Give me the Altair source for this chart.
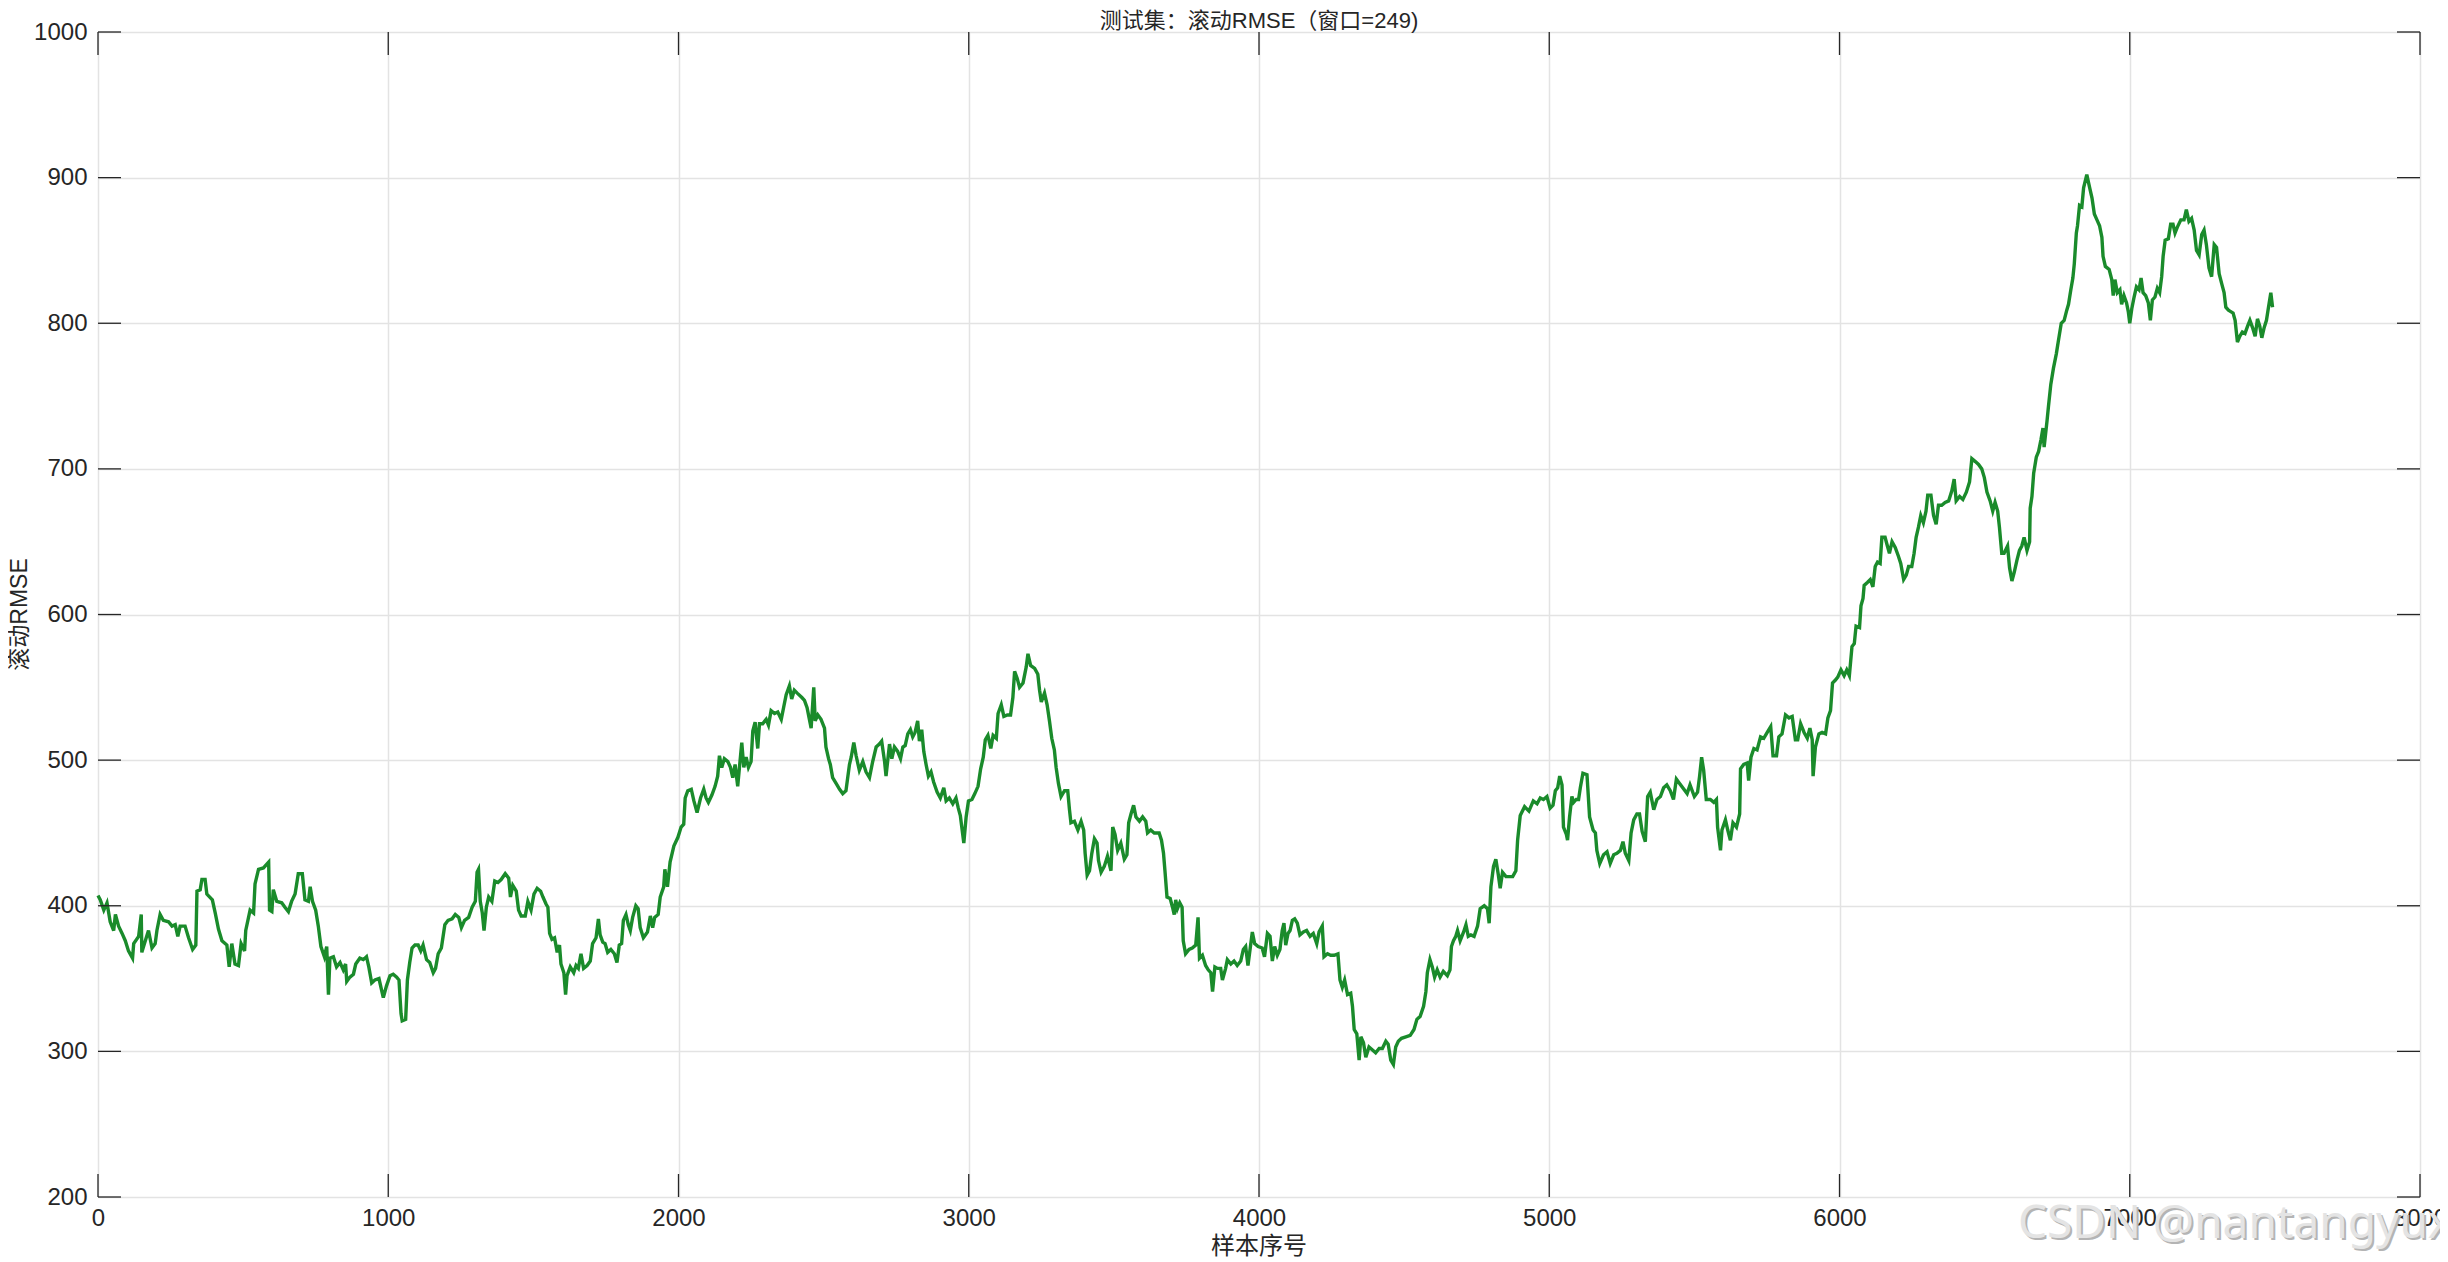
import altair as alt
import pandas as pd

# ---- data (sample index, rolling RMSE) ----
sample_idx = [
    0, 8, 20, 31, 42, 54, 60, 71, 83, 94, 105, 119, 123, 140, 149, 151, 163, 174, 186, 197,
    203, 214, 225, 243, 255, 266, 275, 283, 300, 312, 326, 337, 341, 352, 358, 369, 375, 394, 404, 415,
    427, 444, 452, 461, 472, 484, 493, 505, 509, 524, 536, 541, 553, 570, 588, 591, 599, 604, 616, 633,
    644, 656, 667, 679, 690, 704, 713, 725, 731, 739, 750, 759, 768, 780, 788, 794, 799, 811, 822, 834,
    845, 853, 857, 868, 880, 888, 902, 914, 925, 933, 943, 954, 968,
    977, 983, 994, 1006, 1017, 1029, 1037, 1044, 1048, 1060, 1066, 1074, 1082, 1092, 1103, 1112, 1120, 1132, 1143, 1155,
    1163, 1172, 1183, 1195, 1206, 1220, 1231, 1243, 1252, 1263, 1277, 1289, 1300, 1306, 1311, 1317, 1324, 1330, 1338, 1346,
    1357, 1367, 1378, 1389, 1403, 1415, 1421, 1429, 1441, 1449, 1458, 1472, 1481, 1492, 1502, 1513, 1525, 1533, 1544, 1550,
    1556, 1564, 1573, 1582, 1590, 1595, 1605, 1611, 1616, 1627, 1639, 1647, 1655, 1664, 1673, 1685, 1696, 1704, 1716, 1724,
    1730, 1739, 1747, 1756, 1767, 1779, 1788, 1796, 1804, 1810, 1819, 1827, 1834, 1842, 1853, 1861, 1868, 1879, 1893, 1903,
    1911, 1918, 1930, 1937, 1949, 1953, 1962, 1971,
    1984, 1998, 2009, 2018, 2023, 2032, 2044, 2053, 2064, 2076, 2087, 2095, 2103, 2115, 2126, 2135, 2141, 2149, 2158, 2170,
    2179, 2187, 2195, 2204, 2210, 2218, 2225, 2233, 2241, 2250, 2256, 2264, 2273, 2279, 2290, 2302, 2310, 2319, 2331, 2342,
    2354, 2363, 2371, 2382, 2390, 2399, 2409, 2425, 2434, 2443, 2451, 2457, 2466, 2471, 2480, 2491, 2503, 2508, 2517, 2523,
    2531, 2543, 2555, 2566, 2577, 2589, 2595, 2604, 2612, 2623, 2635, 2646, 2658, 2669, 2681, 2692, 2700, 2710, 2715, 2727,
    2735, 2744, 2755, 2765, 2773, 2781, 2790, 2799, 2807, 2815, 2824, 2830, 2838, 2845, 2853, 2861, 2870, 2879, 2891, 2902,
    2914, 2922, 2933, 2945, 2956, 2964, 2971, 2976, 2983, 2991, 2999,
    3011, 3021, 3032, 3041, 3050, 3057, 3066, 3076, 3084, 3095, 3101, 3112, 3121, 3133, 3144, 3152, 3158, 3167, 3175, 3187,
    3198, 3204, 3213, 3227, 3238, 3244, 3250, 3261, 3270, 3278, 3286, 3295, 3301, 3309, 3318, 3330, 3341, 3347, 3352, 3364,
    3376, 3387, 3396, 3401, 3408, 3416, 3424, 3433, 3442, 3447, 3456, 3467, 3478, 3490, 3496, 3504, 3513, 3524, 3536, 3545,
    3551, 3559, 3568, 3576, 3588, 3599, 3610, 3616, 3627, 3639, 3656, 3664, 3671, 3676, 3683, 3694, 3702, 3708, 3713, 3719,
    3727, 3735, 3739, 3747, 3759, 3770, 3782, 3790, 3795, 3805, 3816, 3825, 3834, 3840, 3848, 3857, 3868, 3874, 3885, 3891,
    3903, 3914, 3925, 3937, 3946, 3954, 3962,
    3977, 3985, 3997, 4011, 4019, 4029, 4038, 4046, 4054, 4063, 4072, 4080, 4086, 4092, 4100, 4107, 4115, 4123, 4132, 4141,
    4153, 4164, 4176, 4187, 4199, 4207, 4218, 4224, 4236, 4247, 4259, 4272, 4279, 4287, 4295, 4305, 4316, 4322, 4328, 4337,
    4345, 4351, 4360, 4368, 4379, 4391, 4402, 4414, 4425, 4437, 4445, 4454, 4463, 4471, 4480, 4491, 4506, 4521, 4534, 4544,
    4555, 4567, 4575, 4580, 4589, 4597, 4605, 4614, 4624, 4635, 4649, 4658, 4663, 4670, 4678, 4684, 4693, 4705, 4713, 4721,
    4730, 4741, 4753, 4762, 4776, 4787, 4793, 4799, 4808, 4816, 4824, 4831, 4839, 4851, 4862, 4874, 4885, 4891,
    4900, 4915, 4930, 4945, 4958,
    4969, 4980, 4992, 5003, 5013, 5021, 5029, 5036, 5044, 5049, 5059, 5063, 5070, 5078, 5084, 5093, 5101, 5107, 5116, 5130,
    5139, 5151, 5159, 5164, 5174, 5187, 5199, 5210, 5222, 5233, 5245, 5254, 5262, 5274, 5282, 5291, 5302, 5311, 5320, 5331,
    5339, 5348, 5360, 5371, 5383, 5394, 5405, 5417, 5428, 5438, 5449, 5460, 5475, 5485, 5500, 5511, 5518, 5525, 5532, 5541,
    5555, 5567, 5576, 5580, 5590, 5595, 5607, 5615, 5624, 5633, 5645, 5656, 5659, 5670, 5682, 5687, 5695, 5705, 5716, 5728,
    5739, 5751, 5763, 5771, 5783, 5791, 5802, 5814, 5826, 5837, 5848, 5856, 5866, 5878, 5889, 5898, 5906, 5909, 5917, 5929,
    5940, 5952, 5960, 5969, 5976, 5986, 5994,
    6005, 6016, 6025, 6034, 6043, 6051, 6057, 6069, 6074, 6081, 6085, 6096, 6106, 6115, 6123, 6131, 6140, 6146, 6157, 6165,
    6172, 6181, 6192, 6203, 6211, 6221, 6230, 6238, 6249, 6257, 6264, 6272, 6280, 6289, 6298, 6304, 6315, 6324, 6333, 6341,
    6352, 6364, 6376, 6387, 6395, 6402, 6414, 6425, 6437, 6448, 6456, 6468, 6479, 6490, 6499, 6508, 6519, 6528, 6536, 6545,
    6551, 6559, 6567, 6579, 6586, 6594, 6602, 6611, 6620, 6628, 6636, 6646, 6655, 6657, 6663, 6669, 6678, 6686, 6694, 6701,
    6705, 6715, 6720, 6728, 6737, 6747, 6755, 6764, 6774, 6783, 6789, 6797, 6804, 6809, 6816, 6820, 6827, 6835, 6841, 6852,
    6862, 6870, 6878, 6887, 6896, 6904, 6908, 6916,
    6929, 6938, 6943, 6949, 6957, 6966, 6972, 6980, 6989, 6995, 7000, 7007, 7015, 7023, 7032, 7039, 7046, 7055, 7064, 7071,
    7078, 7087, 7095, 7103, 7110, 7115, 7122, 7133, 7141, 7149, 7156, 7164, 7176, 7187, 7195, 7204, 7213, 7222, 7230, 7239,
    7248, 7256, 7264, 7273, 7282, 7291, 7299, 7308, 7317, 7325, 7331, 7340, 7348, 7356, 7363, 7371, 7379, 7388, 7397, 7406,
    7414, 7423, 7432, 7440, 7448, 7455, 7463, 7471, 7478, 7486, 7492,
]

rolling_rmse = [
    407, 404, 397, 402, 389, 383, 394, 386, 381, 376, 369, 364, 374, 379, 394, 368, 376, 383, 371, 374,
    383, 394, 390, 389, 386, 387, 379, 386, 386, 378, 370, 373, 410, 411, 418, 418, 408, 404, 395, 384,
    376, 373, 358, 374, 360, 359, 374, 369, 383, 397, 395, 415, 425, 426, 430, 397, 396, 411, 403, 402,
    399, 396, 403, 408, 422, 422, 404, 403, 413, 403, 397, 386, 372, 365, 372, 339, 364, 365, 358, 361,
    356, 360, 348, 351, 353, 360, 364, 363, 365, 358, 347, 349, 350,
    342, 337, 345, 352, 353, 351, 349, 326, 321, 322, 349, 361, 371, 373, 373, 369, 373, 363, 361, 354,
    357, 367, 371, 387, 390, 391, 394, 392, 385, 390, 392, 399, 403, 423, 425, 403, 395, 383, 399, 406,
    403, 417, 416, 418, 422, 419, 406, 414, 410, 397, 393, 393, 403, 397, 408, 412, 410, 406, 401, 399,
    381, 377, 378, 368, 373, 360, 354, 339, 352, 358, 354, 359, 357, 367, 357, 359, 362, 374, 378, 391,
    380, 375, 374, 368, 370, 367, 361, 373, 374, 390, 394, 387, 383, 392, 400, 398, 385, 378, 382, 393,
    385, 392, 394, 406, 413, 425, 413, 430,
    441, 447, 454, 456, 474, 479, 480, 472, 464, 474, 480, 474, 471, 476, 482, 489, 503, 495, 501, 499,
    495, 488, 497, 482, 495, 512, 495, 502, 495, 499, 520, 526, 508, 525, 525, 528, 524, 534, 532, 533,
    528, 537, 545, 551, 542, 548, 546, 543, 541, 536, 528, 522, 550, 527, 531, 528, 522, 509, 501, 497,
    488, 484, 480, 477, 479, 497, 502, 512, 503, 493, 499, 492, 488, 499, 509, 511, 513, 499, 489, 511,
    501, 509, 506, 501, 509, 510, 518, 521, 516, 519, 527, 513, 521, 506, 497, 489, 492, 485, 478, 474,
    481, 472, 474, 470, 474, 467, 462, 454, 443, 461, 472,
    473, 477, 482, 494, 502, 514, 517, 508, 517, 515, 532, 538, 530, 531, 531, 543, 561, 556, 550, 553,
    564, 573, 565, 563, 559, 548, 540, 546, 538, 527, 515, 507, 495, 484, 475, 479, 479, 466, 457, 458,
    452, 458, 452, 436, 421, 424, 436, 446, 443, 431, 423, 427, 434, 424, 454, 449, 438, 443, 432, 435,
    457, 463, 469, 461, 458, 461, 458, 450, 452, 450, 450, 445, 436, 424, 406, 405, 399, 394, 404, 398,
    402, 399, 376, 367, 370, 371, 373, 392, 364, 366, 359, 356, 354, 341, 358, 357, 357, 349, 357, 363,
    360, 362, 359, 362, 370, 372, 359,
    382, 374, 372, 371, 365, 381, 379, 362, 372, 366, 370, 383, 388, 373, 381, 383, 390, 391, 388, 380,
    382, 383, 379, 381, 374, 382, 386, 365, 367, 366, 366, 367, 349, 344, 349, 339, 340, 331, 315, 312,
    294, 310, 306, 296, 303, 301, 299, 302, 302, 307, 305, 294, 291, 303, 307, 309, 310, 311, 315, 322,
    324, 331, 341, 354, 363, 358, 351, 356, 351, 355, 352, 356, 372, 376, 379, 383, 376, 382, 387, 379,
    380, 379, 386, 398, 400, 398, 388, 413, 427, 432, 422, 412, 423, 420, 420, 420, 424, 445,
    462, 468, 465, 472, 470,
    474, 473, 475, 467, 469, 479, 481, 489, 483, 454, 449, 445, 461, 475, 471, 473, 473, 481, 491, 490,
    461, 452, 450, 438, 429, 435, 437, 429, 435, 436, 438, 444, 436, 431, 450, 459, 463, 463, 451, 444,
    475, 478, 466, 473, 475, 481, 483, 479, 473, 487, 484, 481, 477, 483, 475, 478, 489, 502, 493, 473,
    473, 471, 473, 454, 438, 452, 459, 452, 445, 457, 454, 463, 494, 497, 498, 486, 502, 508, 507, 516,
    515, 519, 523, 503, 503, 516, 518, 531, 529, 530, 514, 514, 525, 519, 515, 522, 514, 489, 509, 518,
    519, 518, 529, 534, 553, 555, 557,
    562, 558, 562, 558, 578, 580, 592, 591, 606, 611, 620, 622, 624, 619, 633, 636, 635, 653, 653, 647,
    642, 650, 646, 640, 635, 624, 627, 633, 633, 642, 653, 660, 668, 663, 671, 682, 682, 668, 662, 675,
    675, 677, 678, 685, 693, 678, 681, 679, 684, 691, 707, 705, 703, 700, 694, 684, 678, 671, 677, 671,
    660, 642, 642, 647, 632, 623, 629, 637, 644, 647, 653, 644, 650, 673, 681, 697, 708, 712, 720, 728,
    715, 733, 743, 758, 769, 779, 789, 800, 802, 809, 813, 823, 831, 841, 862, 867, 881, 880, 893, 902,
    893, 886, 875, 871, 867, 859, 846, 839,
    837, 830, 819, 830, 821, 823, 813, 819, 814, 808, 800, 810, 818, 825, 823, 831, 821, 819, 814, 802,
    816, 818, 824, 821, 832, 846, 857, 858, 868, 868, 862, 866, 871, 871, 878, 870, 872, 864, 850, 847,
    861, 864, 854, 838, 832, 854, 852, 834, 827, 821, 811, 809, 808, 807, 802, 787, 791, 794, 793, 798,
    802, 797, 791, 803, 798, 790, 797, 802, 811, 821, 811,
]

x_ticks = [0, 1000, 2000, 3000, 4000, 5000, 6000, 7000, 8000]
y_ticks = [200, 300, 400, 500, 600, 700, 800, 900, 1000]

title_text = "测试集：滚动RMSE（窗口=249)"
x_title = "样本序号"
y_title = "滚动RMSE"
watermark = "CSDN @nantangyuxi"

# ---- chart ----
W, H = 2322, 1165
TICK = 23
FONT = "Liberation Sans, Noto Sans CJK SC, sans-serif"
TXT = "#262626"

df = pd.DataFrame({"x": sample_idx, "v": rolling_rmse})
xt = pd.DataFrame({"x": x_ticks})
yt = pd.DataFrame({"v": y_ticks})
one = pd.DataFrame({"k": [0]})

xscale = alt.Scale(domain=[0, 8000], nice=False, zero=False)
yscale = alt.Scale(domain=[200, 1000], nice=False, zero=False)

xaxis = alt.Axis(
    values=x_ticks, format="d", grid=True, ticks=False, domain=False,
    labelFontSize=24, labelFont=FONT, labelColor=TXT, labelPadding=9,
    labelFlush=False, labelOverlap=False, title="",
    gridColor="#e3e3e3", gridWidth=1.5,
)
yaxis = alt.Axis(
    values=y_ticks, format="d", grid=True, ticks=False, domain=False,
    labelFontSize=24, labelFont=FONT, labelColor=TXT, labelPadding=11,
    labelOverlap=False, title="",
    gridColor="#e3e3e3", gridWidth=1.5,
)

X = alt.X("x:Q", scale=xscale, axis=xaxis)
Y = alt.Y("v:Q", scale=yscale, axis=yaxis)

line = alt.Chart(df).mark_line(color="#1a8b2b", strokeWidth=3.4).encode(x=X, y=Y)

tick_style = dict(color=TXT, strokeWidth=1.3)
bottom_ticks = alt.Chart(xt).mark_rule(**tick_style).encode(
    x=X, y=alt.value(H), y2=alt.value(H - TICK))
top_ticks = alt.Chart(xt).mark_rule(**tick_style).encode(
    x=X, y=alt.value(0), y2=alt.value(TICK))
left_ticks = alt.Chart(yt).mark_rule(**tick_style).encode(
    y=Y, x=alt.value(0), x2=alt.value(TICK))
right_ticks = alt.Chart(yt).mark_rule(**tick_style).encode(
    y=Y, x=alt.value(W), x2=alt.value(W - TICK))

# titles as text marks (exact placement)
title_mark = alt.Chart(one).mark_text(
    align="center", baseline="alphabetic", fontSize=22, font=FONT, color=TXT,
).encode(x=alt.value(W / 2), y=alt.value(-4), text=alt.value(title_text))
xtitle_mark = alt.Chart(one).mark_text(
    align="center", baseline="middle", fontSize=24, font=FONT, color=TXT,
).encode(x=alt.value(W / 2), y=alt.value(H + 50), text=alt.value(x_title))
ytitle_mark = alt.Chart(one).mark_text(
    align="center", baseline="middle", fontSize=23, font=FONT, color=TXT, angle=270,
).encode(x=alt.value(-78), y=alt.value(H / 2), text=alt.value(y_title))

wm_shadow = alt.Chart(one).mark_text(
    align="left", baseline="alphabetic", fontSize=46, font="Noto Sans, sans-serif",
    color="#b4b4b4",
).encode(x=alt.value(1922), y=alt.value(1208), text=alt.value(watermark))
wm = alt.Chart(one).mark_text(
    align="left", baseline="alphabetic", fontSize=46, font="Noto Sans, sans-serif",
    color="#e4e4e4",
).encode(x=alt.value(1920), y=alt.value(1206), text=alt.value(watermark))

chart = alt.layer(
    line, bottom_ticks, top_ticks, left_ticks, right_ticks,
    title_mark, xtitle_mark, ytitle_mark, wm_shadow, wm
).properties(
    width=W, height=H,
    autosize=alt.AutoSizeParams(type="none"),
    padding={"left": 90, "top": 24, "right": 20, "bottom": 62},
).configure_view(
    stroke="#8c8c8c", strokeWidth=2,
).configure(background="white")

chart.save("out.html", embed_options={"renderer": "svg", "actions": False})
